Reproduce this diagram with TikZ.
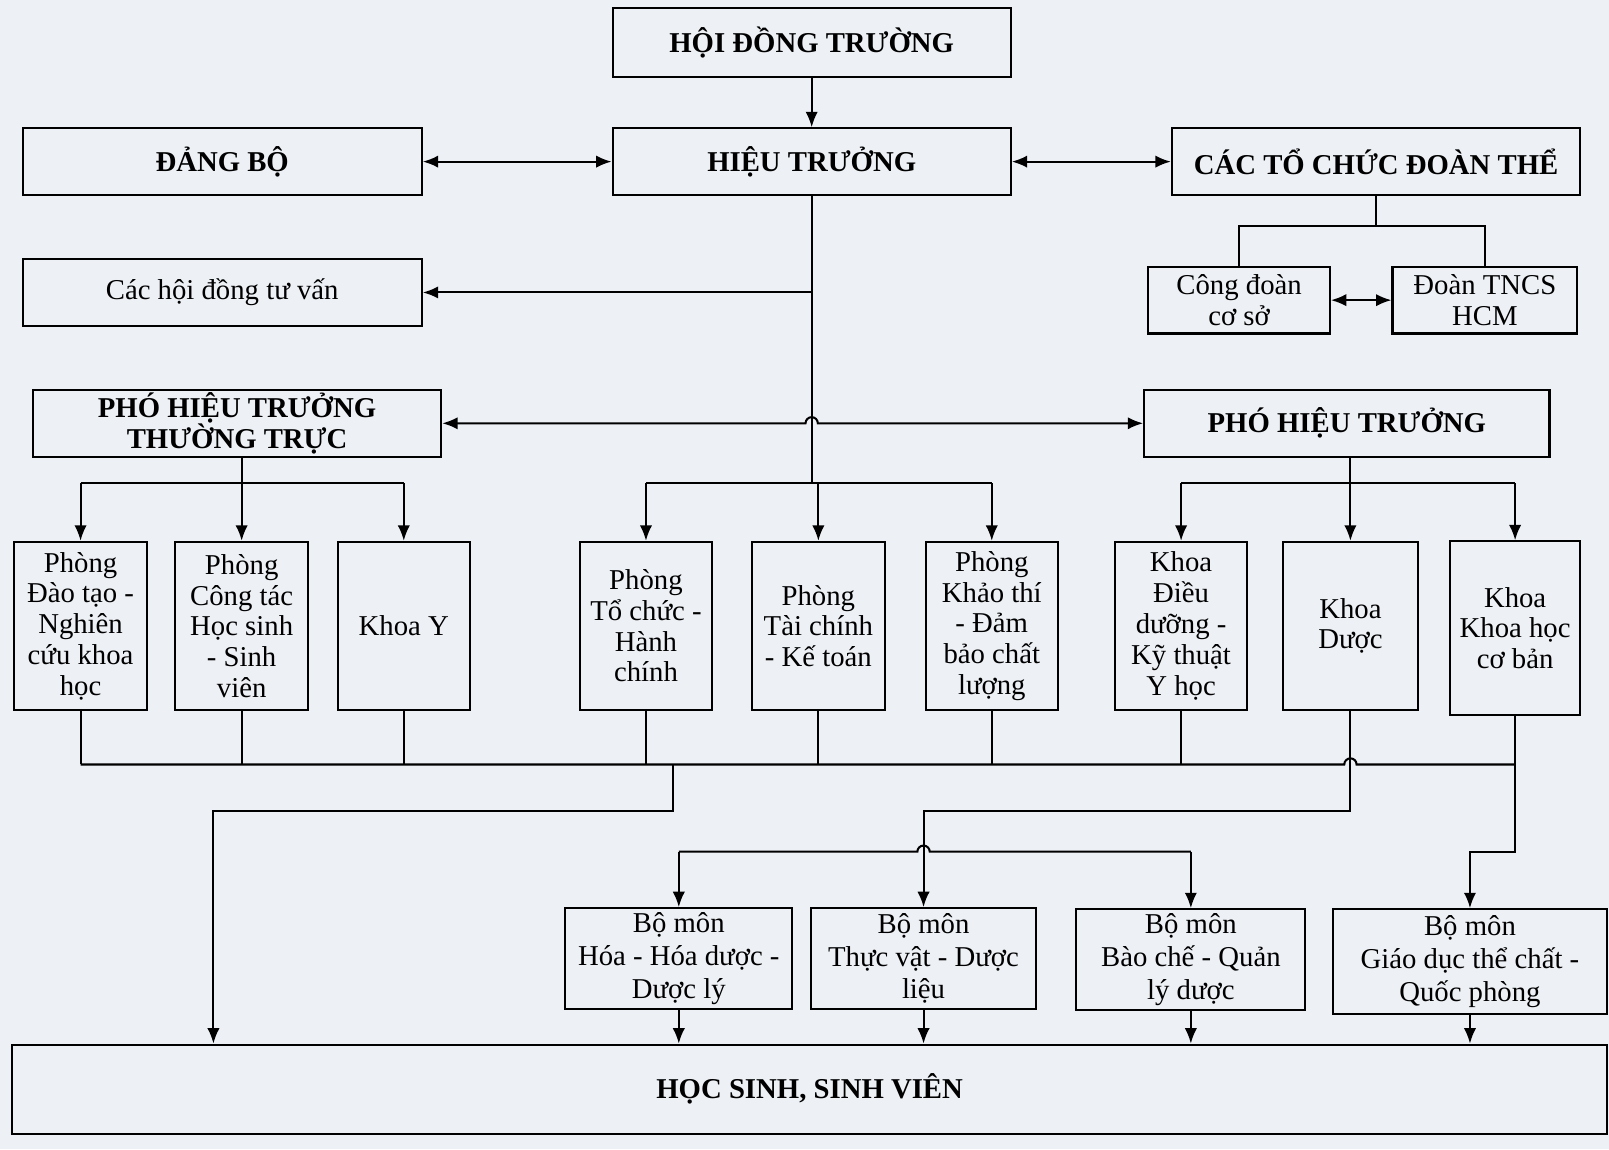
\documentclass[tikz,border=0pt]{standalone}
\usepackage{fontspec}
\setmainfont{Liberation Serif}
\usepackage{xcolor}
\usetikzlibrary{arrows.meta}
\definecolor{paper}{RGB}{237,240,245}
\tikzstyle{box}=[draw,line width=1pt,align=center,inner sep=1pt,font=\fontsize{14}{15}\selectfont]
\tikzstyle{head}=[box,font=\fontsize{14}{15}\selectfont\bfseries]
\tikzstyle{col}=[box,minimum width=64.5pt,minimum height=82pt]
\tikzstyle{bomon}=[box,minimum height=49pt,font=\fontsize{14}{16}\selectfont]
\tikzstyle{line}=[line width=1pt]
\tikzstyle{arr}=[line,-{Latex[length=7.5pt,width=6pt]}]
\tikzstyle{arrs}=[line,{Latex[length=7.5pt,width=6pt]}-{Latex[length=7.5pt,width=6pt]}]

\begin{document}
\begin{tikzpicture}[x=0.5pt,y=-0.5pt]
        \fill[paper] (0,0) rectangle (1568,1120);
        \useasboundingbox (0,0) rectangle (1568,1120);

        \node at ( 791,  41.5) [head,minimum width=194pt,minimum height=33.5pt] (hdt) {HỘI ĐỒNG TRƯỜNG};
        \node at ( 216.5,157.5) [head,minimum width=194.5pt,minimum height=32.5pt] (dangbo) {ĐẢNG BỘ};
        \node at ( 791, 157.5) [head,minimum width=194pt,minimum height=32.5pt] (ht) {HIỆU TRƯỞNG};
        \node at (1341, 157.5) [head,minimum width=199pt,minimum height=32.5pt] (tochuc) {CÁC TỔ CHỨC ĐOÀN THỂ};
        \node at ( 216.5,285) [box,minimum width=194.5pt,minimum height=33pt] (hdtv) {Các hội đồng tư vấn};
        \node at (1207.5,292.5) [box,minimum width=88.5pt,minimum height=32.5pt] (congdoan) {Công đoàn\\cơ sở};
        \node at (1447, 292.5) [box,minimum width=90pt,minimum height=32.5pt] (doantn) {Đoàn TNCS\\HCM};
        \node at ( 231, 412.5) [head,minimum width=199pt,minimum height=32.5pt] (phttt) {PHÓ HIỆU TRƯỞNG\\THƯỜNG TRỰC};
        \node at (1312.5,412.5) [head,minimum width=197.5pt,minimum height=32.5pt] (pht) {PHÓ HIỆU TRƯỞNG};

        \node at (  78.5,610) [col] (p1) {Phòng\\Đào tạo -\\Nghiên\\cứu khoa\\học};
        \node at ( 235.5,610) [col] (p2) {Phòng\\Công tác\\Học sinh\\- Sinh\\viên};
        \node at ( 393.5,610) [col] (p3) {Khoa Y};
        \node at ( 629.5,610) [col] (p4) {Phòng\\Tổ chức -\\Hành\\chính};
        \node at ( 797.5,610) [col] (p5) {Phòng\\Tài chính\\- Kế toán};
        \node at ( 966.5,610) [col] (p6) {Phòng\\Khảo thí\\- Đảm\\bảo chất\\lượng};
        \node at (1151, 610) [col] (p7) {Khoa\\Điều\\dưỡng -\\Kỹ thuật\\Y học};
        \node at (1316, 610) [col,minimum width=66pt] (p8) {Khoa\\Dược};
        \node at (1476.5,612) [col,minimum width=63.5pt,minimum height=84.5pt] (p9) {Khoa\\Khoa học\\cơ bản};

        \node at ( 661.5,934) [bomon,minimum width=110.5pt] (bm1) {Bộ môn\\Hóa - Hóa dược -\\Dược lý};
        \node at ( 900, 934) [bomon,minimum width=110pt] (bm2) {Bộ môn\\Thực vật - Dược\\liệu};
        \node at (1160.5,935) [bomon,minimum width=111.5pt] (bm3) {Bộ môn\\Bào chế - Quản\\lý dược};
        \node at (1432.5,937) [bomon,minimum width=133.5pt,minimum height=51pt] (bm4) {Bộ môn\\Giáo dục thể chất -\\Quốc phòng};
        \node at ( 789,1061.5) [head,minimum width=777pt,minimum height=43.5pt] (hssv) {HỌC SINH, SINH VIÊN};

        \coordinate (jt) at (0,220);
        \coordinate (jm) at (0,471);
        \coordinate (jb) at (0,745);
        \coordinate (jc) at (0,790);
        \coordinate (jd) at (0,830);
        \coordinate (ka) at (656,745);
        \coordinate (kb) at (208,790);

        \draw[arr] (hdt) -- (ht);
        \draw[arrs] (dangbo) -- (ht);
        \draw[arrs] (ht) -- (tochuc);
        \draw[line] (tochuc.south) -- (tochuc.south |- jt);
        \draw[line] (congdoan.north) |- (tochuc.south |- jt) -| (doantn.north);
        \draw[arrs] (congdoan) -- (doantn);

        \draw[line] (ht.south) -- (ht.south |- jm);
        \draw[arr] (ht.south |- hdtv) -- (hdtv);
        \draw[arrs] (phttt.east) -- (785,412.5) arc (180:0:3pt) -- (pht.west);
        \draw[line] (p4.north |- jm) -- (p6.north |- jm);
        \foreach \n in {p4,p5,p6}
          \draw[arr] (\n.north |- jm) -- (\n);

        \draw[line] (p2.north |- phttt.south) -- (p2.north |- jm);
        \draw[line] (p1.north |- jm) -- (p3.north |- jm);
        \foreach \n in {p1,p2,p3}
          \draw[arr] (\n.north |- jm) -- (\n);

        \draw[line] (p8.north |- pht.south) -- (p8.north |- jm);
        \draw[line] (p7.north |- jm) -- (p9.north |- jm);
        \foreach \n in {p7,p8,p9}
          \draw[arr] (\n.north |- jm) -- (\n);

        \foreach \n in {p1,p2,p3,p4,p5,p6,p7}
          \draw[line] (\n.south) -- (\n.south |- jb);
        \draw[line] (p1.south |- jb) -- (1310,745) arc (180:0:3pt) -- (p9.south |- jb);
        \draw[arr] (ka) |- (kb) -- (kb |- hssv.north);
        \draw[arr] (p8.south) -- (p8.south |- jc) -| (bm2.north);
        \draw[arr] (p9.south) -- (p9.south |- jd) -| (bm4.north);
        \draw[line] (bm1.north |- jd) -- (894,830) arc (180:0:3pt) -- (bm3.north |- jd);
        \draw[arr] (bm1.north |- jd) -- (bm1);
        \draw[arr] (bm3.north |- jd) -- (bm3);

        \foreach \n in {bm1,bm2,bm3,bm4}
          \draw[arr] (\n.south) -- (\n.south |- hssv.north);
      \end{tikzpicture}
\end{document}
